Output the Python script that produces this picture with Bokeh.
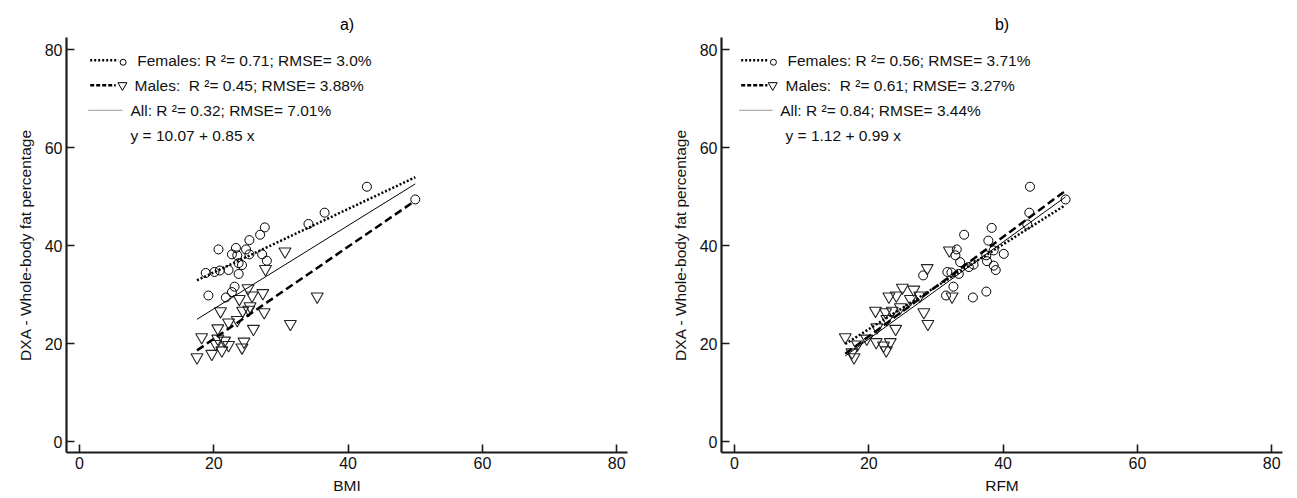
from bokeh.plotting import figure
from bokeh.layouts import row
from bokeh.models import Label, Range1d
from bokeh.embed import file_html
from bokeh.resources import INLINE

FONT = "Liberation Sans"

# ---------------- Panel a) BMI ----------------
bmi_females = [42.8, 50.0, 36.5, 34.1, 27.6, 26.9, 25.3, 20.7, 23.3, 24.8, 22.7, 23.5, 25.3,
               27.2, 27.9, 23.7, 24.2, 22.2, 20.9, 18.8, 20.1, 23.7, 23.1, 22.7, 21.8, 19.2]
dxa_females_a = [52.0, 49.4, 46.7, 44.4, 43.7, 42.2, 41.1, 39.2, 39.5, 39.2, 38.2, 38.0, 38.2,
                 38.2, 36.9, 36.4, 36.0, 35.0, 34.9, 34.4, 34.6, 34.2, 31.6, 30.5, 29.4, 29.8]
bmi_males = [30.6, 27.7, 35.4, 31.4, 25.1, 27.3, 23.8, 25.7, 21.0, 24.3, 25.2, 27.5, 22.2, 23.5,
             25.9, 20.6, 18.2, 20.6, 21.6, 20.3, 22.2, 24.5, 24.2, 17.5, 19.7, 21.2, 25.4]
dxa_males_a = [38.8, 35.2, 29.6, 24.0, 31.3, 30.3, 29.1, 29.8, 26.6, 26.7, 26.9, 26.4, 24.3, 24.8,
               23.0, 23.1, 21.3, 21.0, 20.6, 19.9, 19.7, 20.4, 19.2, 17.2, 17.9, 18.6, 27.6]
# regression lines (Females, Males, All)
fit_a_intercepts = [21.58, 2.15, 10.07]
fit_a_slopes = [0.647, 0.94, 0.85]
fit_a_xmin = [17.5, 17.5, 17.5]
fit_a_xmax = [50.0, 49.7, 50.0]
legend_a = ["Females: R \u00b2= 0.71; RMSE= 3.0%",
            "Males:\u00a0 R \u00b2= 0.45; RMSE= 3.88%",
            "All: R \u00b2= 0.32; RMSE= 7.01%",
            "y = 10.07 + 0.85 x"]

# ---------------- Panel b) RFM ----------------
rfm_females = [44.0, 49.3, 43.9, 43.6, 34.2, 38.3, 37.8, 33.1, 38.6, 40.1, 32.9, 37.5, 33.6,
               37.6, 38.6, 35.6, 34.9, 38.9, 31.7, 32.3, 33.4, 28.1, 32.6, 31.5, 35.5, 37.5]
dxa_females_b = [52.0, 49.4, 46.7, 44.3, 42.2, 43.6, 41.0, 39.2, 39.0, 38.3, 38.0, 38.0, 36.6,
                 36.8, 35.9, 36.1, 35.6, 35.0, 34.6, 34.5, 34.2, 33.9, 31.6, 29.8, 29.4, 30.6]
rfm_males = [32.0, 28.7, 32.4, 28.2, 28.8, 25.0, 26.7, 24.1, 23.0, 27.6, 26.2, 21.0, 22.5, 23.5,
             24.7, 22.7, 24.0, 21.2, 16.5, 19.7, 18.3, 21.1, 22.2, 23.2, 22.6, 17.8, 17.5]
dxa_males_b = [39.0, 35.4, 29.6, 26.4, 24.0, 31.4, 31.0, 29.8, 29.6, 29.8, 29.1, 26.7, 26.4, 26.7,
               27.4, 25.0, 23.0, 23.3, 21.3, 21.0, 19.8, 20.3, 19.6, 20.3, 18.6, 17.2, 18.2]
fit_b_intercepts = [5.63, 1.15, 1.12]
fit_b_slopes = [0.865, 1.015, 0.99]
fit_b_xmin = [16.5, 16.5, 16.5]
fit_b_xmax = [49.0, 49.3, 49.3]
legend_b = ["Females: R \u00b2= 0.56; RMSE= 3.71%",
            "Males:\u00a0 R \u00b2= 0.61; RMSE= 3.27%",
            "All: R \u00b2= 0.84; RMSE= 3.44%",
            "y = 1.12 + 0.99 x"]

AXIS_TICKS = [0, 20, 40, 60, 80]
LEGEND_ROWS_Y = [77.8, 72.7, 67.6, 62.4]

LINE_STYLES = [dict(line_dash="2 2", line_width=2.5, line_color="black"),
               dict(line_dash="8 4", line_width=2.5, line_color="black"),
               dict(line_dash="solid", line_width=1, line_color="black")]


def make_panel(title, xlabel, fx, fy, mx, my, b0, b1, xmin, xmax, legend_texts,
               leg, border_left, border_right):
    p = figure(frame_width=561, frame_height=415, output_backend="svg", toolbar_location=None,
               x_range=Range1d(-1.93, 81.6), y_range=Range1d(-2.24, 82.45),
               min_border_left=border_left, min_border_right=border_right,
               min_border_top=37, min_border_bottom=46,
               title=title)
    p.title.align = "center"
    p.title.text_font = FONT
    p.title.text_font_size = "16px"
    p.title.text_font_style = "normal"
    p.title.text_color = "black"
    p.title.standoff = 10
    p.outline_line_color = None
    p.grid.visible = False
    p.background_fill_color = "white"
    p.border_fill_color = "white"
    for ax in (p.xaxis[0], p.yaxis[0]):
        ax.ticker = AXIS_TICKS
        ax.axis_line_width = 2.2
        ax.axis_line_color = "#1a1a1a"
        ax.major_tick_in = 8
        ax.major_tick_out = 0
        ax.major_tick_line_width = 1.6
        ax.major_tick_line_color = "#1a1a1a"
        ax.minor_tick_line_color = None
        ax.major_label_text_font = FONT
        ax.major_label_text_font_size = "16px"
        ax.major_label_text_color = "#111111"
        ax.axis_label_text_font = FONT
        ax.axis_label_text_font_size = "15.5px"
        ax.axis_label_text_font_style = "normal"
        ax.axis_label_text_color = "#111111"
        ax.major_label_standoff = 4
    p.xaxis.axis_label = xlabel
    p.yaxis.axis_label = "DXA - Whole-body fat percentage"
    p.xaxis.axis_label_standoff = 5
    p.yaxis.axis_label_standoff = 8

    # points
    p.scatter(fx, fy, marker="circle", size=9, fill_color=None, line_color="black", line_width=1)
    p.scatter(mx, my, marker="inverted_triangle", size=12, fill_color=None,
              line_color="#222222", line_width=1.1)

    # regression lines
    for i in range(3):
        xs = [xmin[i], xmax[i]]
        ys = [b0[i] + b1[i] * xmin[i], b0[i] + b1[i] * xmax[i]]
        p.line(xs, ys, **LINE_STYLES[i])

    # legend (hand-drawn like the original)
    y0, y1, y2, y3 = LEGEND_ROWS_Y
    p.line([leg["s0"], leg["s1"]], [y0, y0], line_dash="2 2", line_width=2.5, line_color="black")
    p.scatter([leg["m0"]], [y0 - 0.4], marker="circle", size=6, fill_color=None,
              line_color="black", line_width=1)
    p.line([leg["s0"], leg["s1b"]], [y1, y1], line_dash="4 2", line_width=2.5, line_color="black")
    p.scatter([leg["m1"]], [y1], marker="inverted_triangle", size=9, fill_color=None,
              line_color="black", line_width=1)
    p.line([leg["s0c"], leg["s1c"]], [y2, y2], line_width=1, line_color="#9a9a9a")
    for txt, yy, xx in zip(legend_texts, LEGEND_ROWS_Y, leg["tx"]):
        p.add_layout(Label(x=xx, y=yy, text=txt, text_font=FONT, text_font_size="15.5px",
                           text_baseline="middle", text_align="left", text_color="#111111"))
    return p


leg_a = dict(s0=1.6, s1=5.8, s1b=5.4, m0=6.5, m1=6.4, s0c=1.3, s1c=6.4, tx=[8.6, 8.2, 7.6, 7.6])
leg_b = dict(s0=1.0, s1=5.1, s1b=4.9, m0=5.8, m1=5.7, s0c=0.7, s1c=5.7, tx=[7.9, 7.6, 6.8, 7.6])

pa = make_panel("a)", "BMI", bmi_females, dxa_females_a, bmi_males, dxa_males_a,
                fit_a_intercepts, fit_a_slopes, fit_a_xmin, fit_a_xmax, legend_a, leg_a, 66, 23)
pb = make_panel("b)", "RFM", rfm_females, dxa_females_b, rfm_males, dxa_males_b,
                fit_b_intercepts, fit_b_slopes, fit_b_xmin, fit_b_xmax, legend_b, leg_b, 71, 14)

layout = row(pa, pb, spacing=0)
open("out.html", "w").write(file_html(layout, INLINE))
